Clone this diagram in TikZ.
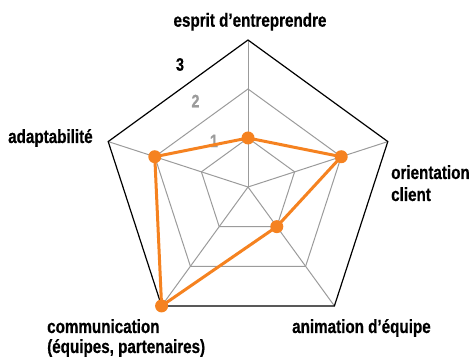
\documentclass[tikz,border=0pt]{standalone}
\usepackage{fontspec}
\setmainfont{Liberation Sans}[FakeStretch=0.8, BoldFeatures={FakeBold=0.6}]
\definecolor{radarorange}{RGB}{245,130,32}
\definecolor{radargray}{RGB}{155,155,155}
\tikzset{
  gridline/.style={radargray, line width=1pt},
  outerline/.style={black, line width=1.2pt},
  radarline/.style={radarorange, line width=3pt, line join=round},
  dot/.style={circle, fill=radarorange, inner sep=0pt, minimum size=13pt},
  axislabel/.style={font=\bfseries\fontsize{19}{21}\selectfont, align=left, inner sep=0pt},
  levellabel/.style={font=\bfseries\fontsize{18}{21}\selectfont, inner sep=0pt}
}
\begin{document}
\begin{tikzpicture}[x=1pt,y=1pt]
    \useasboundingbox (0,0) rectangle (470,358);
    \begin{scope}[shift={(248,171)}]
        \foreach \a [count=\i] in {90,18,-54,-126,162}
            \coordinate (v\i) at (\a:147);
        \foreach \r in {49,98}
            \draw[gridline] (90:\r) -- (18:\r) -- (-54:\r) -- (-126:\r) -- (162:\r) -- cycle;
        \foreach \i in {1,...,5}
            \draw[gridline] (0,0) -- (v\i);
        \draw[outerline] (v1) -- (v2) -- (v3) -- (v4) -- (v5) -- cycle;
    \end{scope}
    \node[levellabel] (l3) at (180,293.5) {3};
    \node[levellabel, radargray] (l2) at (195.5,257) {2};
    \node[levellabel, radargray] (l1) at (214,217) {1};
    \begin{scope}[shift={(248,171)}]
        \foreach \a/\r [count=\i] in {90/49,18/98,-54/49,-126/147,162/98}
            \coordinate (p\i) at (\a:\r);
        \draw[radarline] (p1) -- (p2) -- (p3) -- (p4) -- (p5) -- cycle;
        \foreach \i in {1,...,5}
            \node[dot] (d\i) at (p\i) {};
    \end{scope}
    \node[axislabel, anchor=base] (esprit) at (250,331.3) {esprit d’entreprendre};
    \node[axislabel, anchor=base west] (adapt) at (8,215) {adaptabilité};
    \node[axislabel, anchor=base west, font=\bfseries\fontsize{19}{22}\selectfont] (client) at (391,157) {orientation\\client};
    \node[axislabel, anchor=base west] (anim) at (292,25) {animation d’équipe};
    \node[axislabel, anchor=base west, font=\bfseries\fontsize{19}{20}\selectfont] (comm) at (47,5) {communication\\(équipes, partenaires)};
\end{tikzpicture}
\end{document}
